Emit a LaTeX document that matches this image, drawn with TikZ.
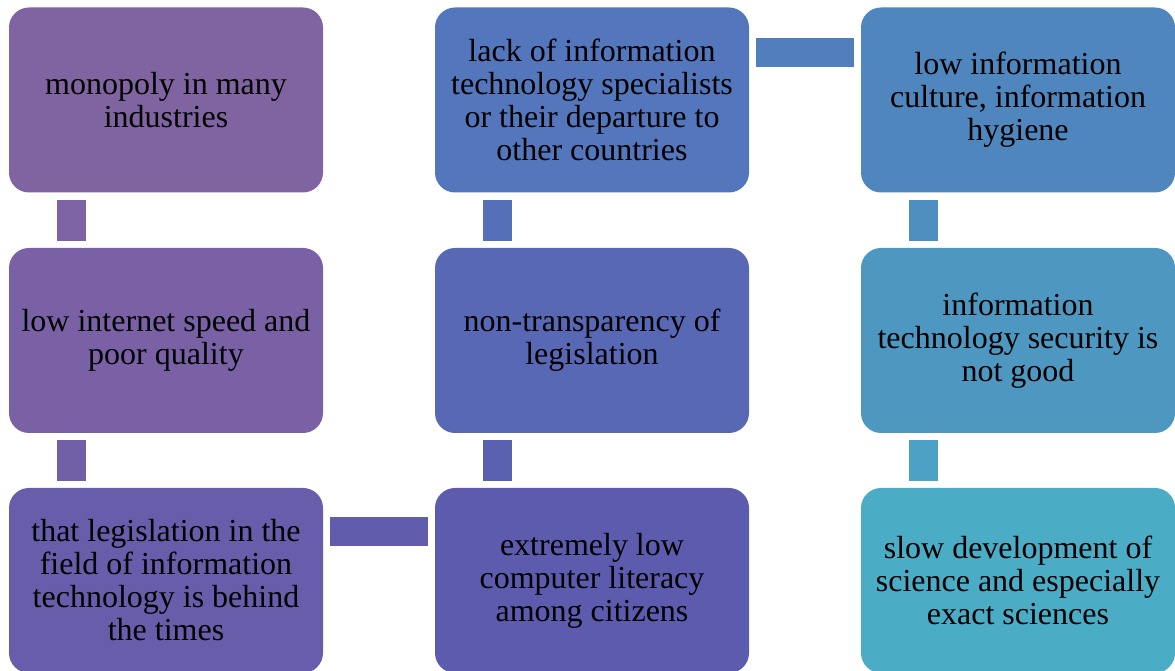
\documentclass[tikz,border=0pt]{standalone}
\usepackage{fontspec}
\setmainfont{Liberation Serif}
\newfontfamily\boxfont{Liberation Serif}
\usetikzlibrary{positioning}
\definecolor{stepA}{RGB}{128,100,162}
\definecolor{stepB}{RGB}{122,97,166}
\definecolor{stepC}{RGB}{104,93,170}
\definecolor{stepD}{RGB}{92,91,174}
\definecolor{stepE}{RGB}{88,104,180}
\definecolor{stepF}{RGB}{83,118,188}
\definecolor{stepG}{RGB}{79,134,189}
\definecolor{stepH}{RGB}{77,151,193}
\definecolor{stepI}{RGB}{75,172,198}
\tikzset{box/.style={rectangle, rounded corners=20pt, minimum width=314pt, minimum height=185pt,
    inner sep=0pt, align=center, font=\boxfont\fontsize{32}{33}\selectfont},
  bar/.style={line width=29pt, shorten <=7pt, shorten >=7pt}}

\begin{document}
\begin{tikzpicture}[x=1pt, y=1pt]
    \useasboundingbox (0,0) rectangle (1175,671);
    \node[box, fill=stepA] (mono) at (166, 571) {monopoly in many\\industries};
    \node[box, fill=stepB] (speed) at (166, 330.5) {low internet speed and\\poor quality};
    \node[box, fill=stepC] (legis) at (166, 90.5) {that legislation in the\\field of information\\technology is behind\\the times};
    \node[box, fill=stepD] (liter) at (592, 90.5) {extremely low\\computer literacy\\among citizens};
    \node[box, fill=stepE] (transp) at (592, 330.5) {non-transparency of\\legislation};
    \node[box, fill=stepF] (lack) at (592, 571) {lack of information\\technology specialists\\or their departure to\\other countries};
    \node[box, fill=stepG] (cult) at (1018, 571) {low information\\culture, information\\hygiene};
    \node[box, fill=stepH] (secur) at (1018, 330.5) {information\\technology security is\\not good};
    \node[box, fill=stepI] (slow) at (1018, 90.5) {slow development of\\science and especially\\exact sciences};
    % connectors
    \draw[bar, stepA!50!stepB] ([xshift=62.5]mono.south west) -- ([xshift=62.5]speed.north west);
    \draw[bar, stepB!50!stepC] ([xshift=62.5]speed.south west) -- ([xshift=62.5]legis.north west);
    \draw[bar, stepC!50!stepD] ([yshift=-44]legis.north east) -- ([yshift=-44]liter.north west);
    \draw[bar, stepD!50!stepE] ([xshift=62.5]liter.north west) -- ([xshift=62.5]transp.south west);
    \draw[bar, stepE!50!stepF] ([xshift=62.5]transp.north west) -- ([xshift=62.5]lack.south west);
    \draw[bar, stepF!50!stepG] ([yshift=-45]lack.north east) -- ([yshift=-45]cult.north west);
    \draw[bar, stepG!50!stepH] ([xshift=62.5]cult.south west) -- ([xshift=62.5]secur.north west);
    \draw[bar, stepH!50!stepI] ([xshift=62.5]secur.south west) -- ([xshift=62.5]slow.north west);
\end{tikzpicture}
\end{document}
